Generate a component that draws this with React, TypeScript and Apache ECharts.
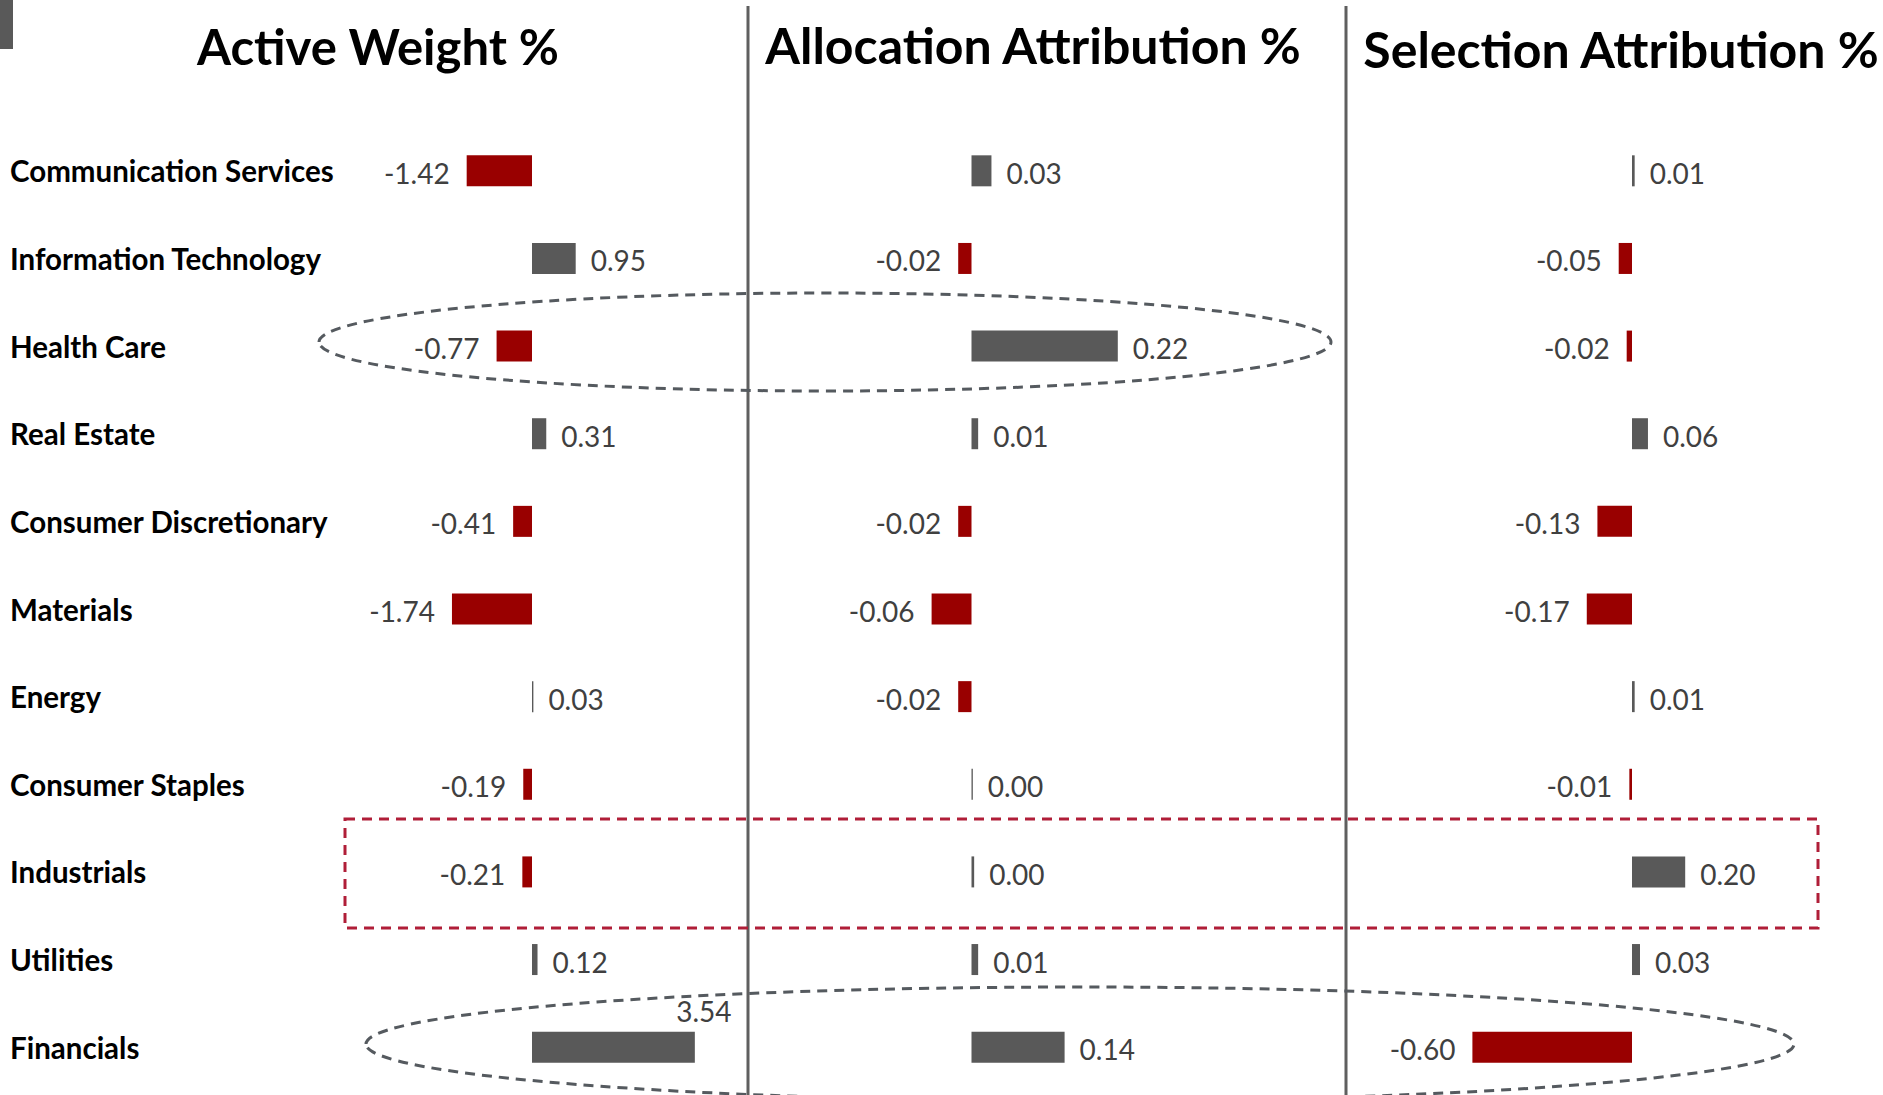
import React, { useEffect, useRef } from "react";
import * as echarts from "echarts";

const categories = [
  "Communication Services",
  "Information Technology",
  "Health Care",
  "Real Estate",
  "Consumer Discretionary",
  "Materials",
  "Energy",
  "Consumer Staples",
  "Industrials",
  "Utilities",
  "Financials",
];
const activeWeight = [-1.42, 0.95, -0.77, 0.31, -0.41, -1.74, 0.03, -0.19, -0.21, 0.12, 3.54];
const allocationAttribution = [0.03, -0.02, 0.22, 0.01, -0.02, -0.06, -0.02, 0.002, 0.004, 0.01, 0.14];
const selectionAttribution = [0.01, -0.05, -0.02, 0.06, -0.13, -0.17, 0.01, -0.01, 0.2, 0.03, -0.6];
const panelTitles = ["Active Weight %", "Allocation Attribution %", "Selection Attribution %"];

const RED = "#990000";
const GREY = "#595959";
const LABEL = "#404040";
const FONT = "Lato, 'Noto Sans', sans-serif";

export default function App() {
  const ref = useRef<HTMLDivElement>(null);

  useEffect(() => {
    if (!ref.current) return;
    const chart = echarts.init(ref.current, undefined, { renderer: "svg" });

    const panels = [
      { values: activeWeight, min: -4, max: 4, left: 348, width: 368, special: 10 },
      { values: allocationAttribution, min: -0.3, max: 0.3, left: 772, width: 399, special: -1 },
      { values: selectionAttribution, min: -1, max: 0.5, left: 1366, width: 399, special: -1 },
    ];

    const grids = panels.map((p) => ({
      left: p.left,
      width: p.width,
      top: 127,
      height: 964,
      containLabel: false,
      outerBoundsMode: "none",
    }));

    const xAxes = panels.map((p, i) => ({
      type: "value",
      gridIndex: i,
      min: p.min,
      max: p.max,
      show: false,
      splitLine: { show: false },
    }));

    const yAxes = panels.map((p, i) => ({
      type: "category",
      gridIndex: i,
      data: categories,
      inverse: true,
      axisLine: { show: false, onZero: false },
      axisTick: { show: false },
      splitLine: { show: false },
      axisLabel: {
        show: i === 0,
        align: "left",
        margin: p.left - 10,
        fontFamily: FONT,
        fontWeight: "bold",
        fontSize: 29.5,
        color: "#000",
      },
    }));

    const series = panels.map((p, i) => ({
      type: "bar",
      xAxisIndex: i,
      yAxisIndex: i,
      barWidth: 31,
      data: p.values.map((v, j) => {
        const neg = v < 0;
        const item: any = {
          value: v,
          itemStyle: { color: neg ? RED : GREY },
          label: {
            show: true,
            position: neg ? "left" : "right",
            distance: neg ? 17 : 15,
            offset: [0, 2],
          },
        };
        if (j === p.special) {
          item.label = {
            show: true,
            position: ["100%", 0],
            align: "center",
            verticalAlign: "bottom",
            offset: [9, -7],
          };
        }
        return item;
      }),
      label: {
        show: true,
        fontFamily: FONT,
        fontSize: 28,
        color: LABEL,
        formatter: (prm: any) => Number(prm.value).toFixed(2),
      },
    }));

    const titleCenters = [
      { x: 378, y: 46 },
      { x: 1033, y: 45 },
      { x: 1621, y: 49 },
    ];

    const dashed = { fill: "none", stroke: "#555a5f", lineWidth: 3, lineDash: [10, 7] };

    const graphic: any[] = [
      { type: "rect", shape: { x: 0, y: 0, width: 13, height: 49 }, style: { fill: GREY } },
      { type: "line", shape: { x1: 748, y1: 6, x2: 748, y2: 1095 }, style: { stroke: "#5f5f5f", lineWidth: 3 } },
      { type: "line", shape: { x1: 1346, y1: 6, x2: 1346, y2: 1095 }, style: { stroke: "#5f5f5f", lineWidth: 3 } },
      ...panelTitles.map((t, i) => ({
        type: "text",
        x: titleCenters[i].x,
        y: titleCenters[i].y,
        style: {
          text: t,
          fontFamily: FONT,
          fontWeight: "bold",
          fontSize: i === 0 ? 49 : 50,
          fill: "#000",
          align: "center",
          verticalAlign: "middle",
        },
      })),
      { type: "ellipse", shape: { cx: 825, cy: 342, rx: 506, ry: 49 }, style: dashed, z: 10 },
      { type: "ellipse", shape: { cx: 1080, cy: 1044, rx: 714, ry: 57 }, style: dashed, z: 10 },
      {
        type: "rect",
        shape: { x: 345, y: 819, width: 1473, height: 109 },
        style: { fill: "none", stroke: "#b01e38", lineWidth: 3, lineDash: [10, 7] },
        z: 10,
      },
    ];

    chart.setOption({
      animation: false,
      backgroundColor: "#fff",
      grid: grids,
      xAxis: xAxes,
      yAxis: yAxes,
      series,
      graphic,
    });

    return () => chart.dispose();
  }, []);

  return (
    <div
      ref={ref}
      style={{ position: "fixed", left: 0, top: 0, width: 1883, height: 1095, background: "#fff" }}
    />
  );
}
